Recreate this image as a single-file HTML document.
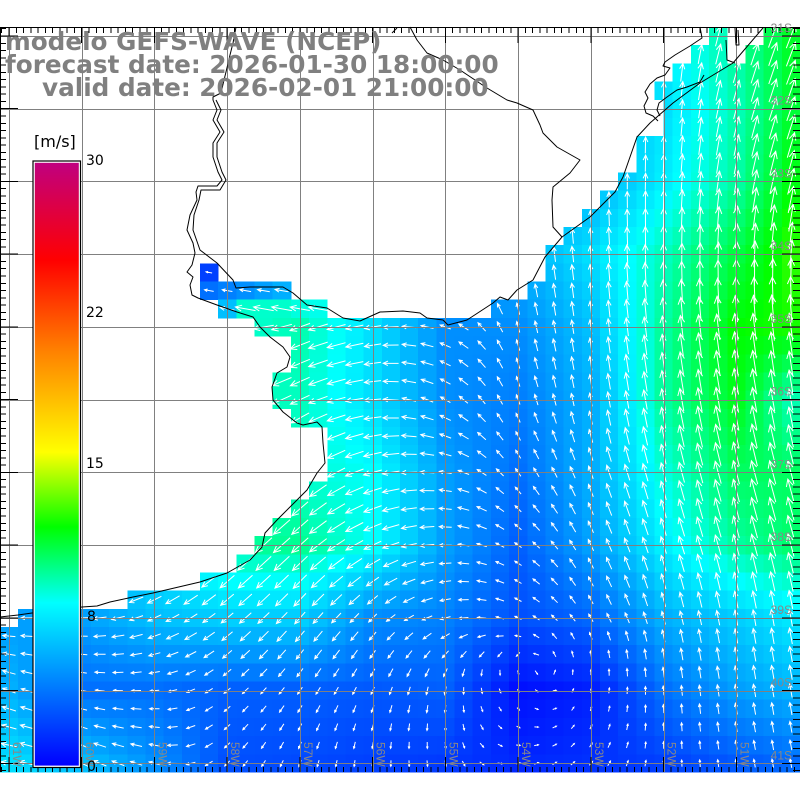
<!DOCTYPE html>
<html><head><meta charset="utf-8">
<style>html,body{margin:0;padding:0;background:#fff;overflow:hidden}svg{display:block}</style>
</head><body>
<svg id="s" width="800" height="800" viewBox="0 0 800 800" xmlns="http://www.w3.org/2000/svg">
<defs><linearGradient id="cb" x1="0" y1="0" x2="0" y2="1">
<stop offset="0" stop-color="#c0007f"/>
<stop offset="0.162" stop-color="#ff0000"/>
<stop offset="0.311" stop-color="#ff8000"/>
<stop offset="0.48" stop-color="#ffff00"/>
<stop offset="0.604" stop-color="#00ff00"/>
<stop offset="0.73" stop-color="#00ffff"/>
<stop offset="1" stop-color="#0000ff"/>
</linearGradient></defs>
<rect x="0" y="0" width="800" height="800" fill="#fff"/>
<g id="cells" shape-rendering="crispEdges"></g>
<path id="arrows" d="" stroke="#fff" stroke-width="1" fill="none"/>
<path id="grid" d="" stroke="#808080" stroke-width="1" fill="none" shape-rendering="crispEdges"/>
<g stroke="#000" stroke-width="1" fill="none" stroke-linejoin="round">
<polyline points="236,27 233,43 230,55 226,72 224,80 221,93 213,97 213,100 217,110 213,120 220,132 213,143 213,157 218,172 222,180 217,186 198,186 196,192 197,200 190,215 187,230 193,243 195,253 192,265 187,272 193,277 190,285 192,295 198,298 217,305 237,312 253,317 260,327 270,337 283,347 290,357 287,367 277,373 272,387 273,400 283,412 297,423 303,425 317,422 322,427 323,443 325,463 317,473 307,490 290,507 277,520 265,533 262,547 250,560 227,573 200,582 153,593 133,597 110,602 97,606 82,607 32,613 18,615 0,617"/>
<polyline points="216,100 221,110 217,120 224,132 217,143 217,157 222,172 226,180 220,190 201,190 199,200 194,215 193,230 200,250 217,263 233,280 236,288 250,287 283,287 293,293 307,305 327,308 343,318 360,321 380,312 403,311 420,313 427,318 443,320 448,325 467,320 493,303 500,297 508,300 517,290 533,280 545,257 562,237 590,217 615,192 623,177 637,137 650,123 673,103 700,83 733,63 763,28"/>
<polyline points="410,27 417,40 427,53 443,60 460,70 487,88 507,100 517,103 533,110 540,125 543,133 557,147 580,160 570,173 553,187 552,200 553,227 562,237"/>
<polyline points="700,27 702,38 690,46 675,55 665,62 663,66 670,68 665,75 657,78 650,84 645,92 648,98 644,106 646,113 653,116 658,121"/>
<polyline points="704,75 700,82 687,87 677,90 667,97 659,103 657,110 660,116"/>
<polyline points="726,40 727,60 735,63"/>
<polyline points="735,28 736,45 739,45 738,30"/>
<polyline points="392,33 397,28"/>
</g>
<path id="ticks" d="" stroke="#000" stroke-width="1" fill="none" shape-rendering="crispEdges"/>
<path d="M0 27.5H800M0.5 27V772" stroke="#000" stroke-width="1" fill="none" shape-rendering="crispEdges"/>
<g id="labels" font-family="Liberation Sans, DejaVu Sans, sans-serif" font-size="12" fill="#888"></g>
<rect x="33" y="161" width="47.5" height="606.5" fill="#fff" stroke="#000" stroke-width="1.2"/>
<rect x="34.8" y="162.8" width="44" height="602.8" fill="url(#cb)"/>
<g font-family="DejaVu Sans, Liberation Sans, sans-serif" fill="#000">
<text x="34" y="147" font-size="16">[m/s]</text>
<text x="86" y="165" font-size="14">30</text>
<text x="86" y="317" font-size="14">22</text>
<text x="86" y="468" font-size="14">15</text>
<text x="87" y="621" font-size="14">8</text>
<text x="87" y="771" font-size="14">0</text>
</g>
<g font-family="DejaVu Sans, Liberation Sans, sans-serif" font-weight="bold" font-size="24.7" fill="#808080">
<text x="5" y="50">modelo GEFS-WAVE (NCEP)</text>
<text x="5" y="73">forecast date: 2026-01-30 18:00:00</text>
<text x="42" y="96">valid date: 2026-02-01 21:00:00</text>
</g>
</svg>
<script>
(function(){
var S=800/44;
var C=[
[6,6,6,6,6,6,6,6,6,7.5,9.5,12],
[6,6,6,6,6,6,6,6,6,7,9.2,11.8],
[5.5,5.5,5.5,5.5,5.5,5.5,5.5,5.5,5.5,7.5,9.5,12.5],
[5,5,5,5,5,5,5,5.5,7,9,11,13],
[5,5,5,8.5,9.2,7,4.5,4.5,6,9.5,12,12.3],
[9,9,9,9,9,7,4.5,4,5.5,9.5,11.5,8.5],
[9,9,9,9,8.8,8,5,3.5,5.5,8.5,10.5,10.5],
[5,5.5,7.5,9.5,9.7,8,5,3,5,7.5,9.5,10.5],
[5,5,6,6.5,6.5,4.5,4,2.5,3.2,5.5,6.5,7.5],
[5.5,3.5,3.5,3,3,2.8,3,0.5,1,3.5,5,5.8],
[7,6,4.5,2.5,2.3,2,1.8,1.2,1.5,2,2.8,3.5]];
var A=[
[90,90,90,90,90,90,90,90,90,85,72,68],
[90,90,90,90,90,90,90,90,90,88,75,70],
[90,90,90,90,90,90,90,90,92,88,80,75],
[170,170,170,170,170,170,150,100,95,90,88,85],
[170,170,170,180,200,190,160,105,97,97,97,97],
[200,200,200,205,205,185,150,110,100,100,100,100],
[215,215,215,220,220,195,170,125,110,105,105,105],
[200,205,210,222,222,205,180,145,115,108,105,105],
[180,182,205,220,228,225,195,155,120,105,100,100],
[160,170,185,220,235,245,260,300,80,95,100,100],
[170,155,165,225,250,265,280,10,50,90,100,100]];
var M=[
[[39,39],[42,43]],[[38,39],[41,43]],[[37,43]],[[36,43]],[[36.5,43]],[[36.5,43]],
[[35,43]],[[35,43]],[[34,43]],[[33,43]],[[32,43]],[[31,43]],[[30,43]],
[[11,11],[30,43]],[[11,15],[29,43]],[[12,17],[27,43]],
[[14,43]],[[16,43]],[[16,43]],[[15,43]],[[15,43]],[[16,43]],
[[18,43]],[[18,43]],[[18,43]],[[17,43]],[[16,43]],[[15,43]],[[14,43]],[[13,43]],[[11,43]],[[7,43]],[[1,43]]];
var ov={"13,11":2,"14,11":3.5,"14,12":4,"14,13":4.5,"14,14":5,"14,15":5.5,"15,12":6,"15,13":8.8,"15,14":8.8,"15,15":8.8,"15,16":8.5,"15,17":8.3};
function f(v){return v.toFixed(1);}
function bilf(G,i,j,fn){var fx=i/4,fy=j/4;var k=Math.min(Math.floor(fx),10),m=Math.min(Math.floor(fy),9);var tx=fx-k,ty=fy-m;
return fn(G[m][k])*(1-tx)*(1-ty)+fn(G[m][k+1])*tx*(1-ty)+fn(G[m+1][k])*(1-tx)*ty+fn(G[m+1][k+1])*tx*ty;}
function col(c){if(c<0)c=0;var r=0,g,b;if(c<=8){g=255*c/8;b=255;}else if(c<=12){g=255;b=255*(12-c)/4;}else{r=Math.min(255,255*(c-12)/3);g=255;b=0;}
return 'rgb('+Math.round(r)+','+Math.round(g)+','+Math.round(b)+')';}
var rad=Math.PI/180;
var cells='',arr='';
for(var j=0;j<41;j++){
 var y0=27+S*j,y1=Math.min(772,27+S*(j+1));
 var R=j>=33?[[0,43]]:M[j];
 for(var q=0;q<R.length;q++){
  var a=R[q][0],b=R[q][1];
  for(var i=Math.floor(a);i<=b;i++){
   var xs=Math.max(S*i,S*a),x1=Math.min(800,S*(i+1));
   var key=j+','+i;
   var c=(key in ov)?ov[key]:bilf(C,i,j,function(x){return x;});
   cells+='<rect x="'+f(xs)+'" y="'+f(y0)+'" width="'+f(x1-xs+0.4)+'" height="'+f(y1-y0+0.4)+'" fill="'+col(c)+'"/>';
   if(xs>S*i+0.01)continue;
   var th;
   if(key in ov)th=170*rad;else th=Math.atan2(bilf(A,i,j,function(d){return Math.sin(d*rad);}),bilf(A,i,j,function(d){return Math.cos(d*rad);}));
   var L=Math.max(1.5,2.1*c+2);
   var cx=S*i+S/2,cy=27+S*j+S/2;
   var dx=Math.cos(th),dy=-Math.sin(th);
   var tx=cx+dx*L/2,ty=cy+dy*L/2,sx=cx-dx*L/2,sy=cy-dy*L/2;
   var h=Math.min(8,Math.max(1.5,0.34*L));
   var a1=th+Math.PI-25*rad,a2=th+Math.PI+25*rad;
   arr+='M'+f(sx)+' '+f(sy)+'L'+f(tx)+' '+f(ty)+'M'+f(tx+h*Math.cos(a1))+' '+f(ty-h*Math.sin(a1))+'L'+f(tx)+' '+f(ty)+'L'+f(tx+h*Math.cos(a2))+' '+f(ty-h*Math.sin(a2));
  }
 }
}
document.getElementById('cells').innerHTML=cells;
document.getElementById('arrows').setAttribute('d',arr);
var g='';
for(var k=0;k<=10;k++){var x=Math.round(9+72.727*k)+0.5;g+='M'+x+' 27V772';}
for(var m=0;m<=10;m++){var y=Math.round(36+72.727*m)+0.5;g+='M0 '+y+'H800';}
document.getElementById('grid').setAttribute('d',g);
var t='';
for(var n=-1;;n++){var x2=9+7.2727*n;if(x2>800)break;var mj=(n%10===0);t+='M'+f(x2)+' 27V'+(mj?43:33);t+='M'+f(x2)+' 772V'+(mj?757:767);}
for(var n2=-1;;n2++){var y2=36+7.2727*n2;if(y2>772)break;var mj2=(n2%10===0);t+='M0 '+f(y2)+'H'+(mj2?18:6);t+='M800 '+f(y2)+'H'+(mj2?782:793);}
document.getElementById('ticks').setAttribute('d',t);
var lb='';
for(var m2=0;m2<=10;m2++){lb+='<text x="792" y="'+f(36+72.727*m2-4)+'" text-anchor="end">'+(31+m2)+'S</text>';}
for(var k2=0;k2<=10;k2++){lb+='<text transform="translate('+f(9+72.727*k2+4)+',742) rotate(90)">'+(61-k2)+'W</text>';}
document.getElementById('labels').innerHTML=lb;
})();
</script>
</body></html>
